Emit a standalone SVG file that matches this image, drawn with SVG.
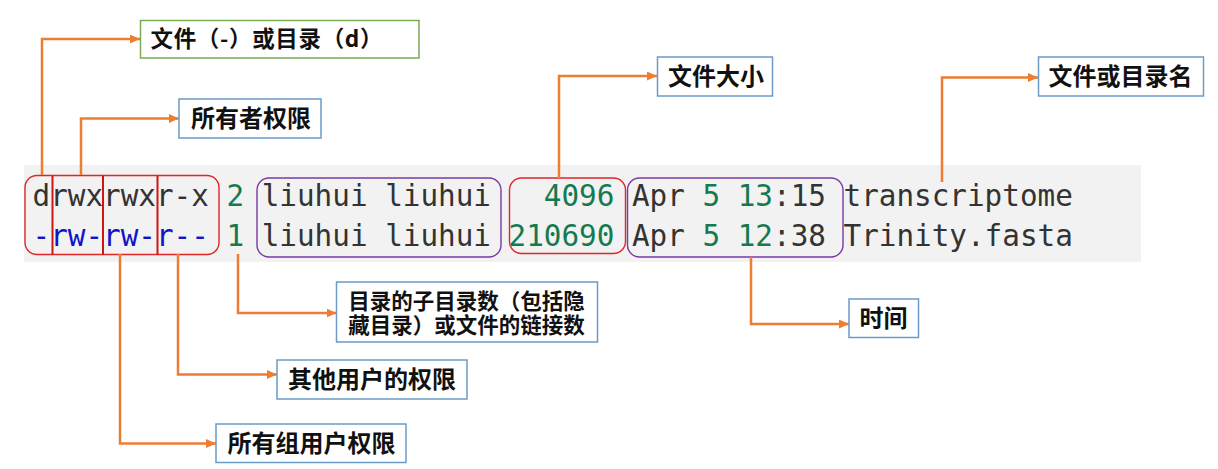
<svg xmlns="http://www.w3.org/2000/svg" width="1218" height="469" viewBox="0 0 1218 469">
<style>
.mono{font-family:"DejaVu Sans Mono","Liberation Mono",monospace;font-size:29.3px;fill:#333333}
.g{fill:#157a50}
.b{fill:#1212c8}
.lbl{font-family:"Noto Sans CJK SC","Noto Sans",sans-serif;font-weight:bold;font-size:24px;fill:#111111;text-anchor:middle}
.box{fill:#ffffff;stroke:#6b9bc6;stroke-width:1.5}
.boxg{fill:#ffffff;stroke:#7aab55;stroke-width:1.5}
.red{fill:none;stroke:#e02626;stroke-width:1.4}
.pur{fill:none;stroke:#7a3aa6;stroke-width:1.4}
.div{stroke:#d01515;stroke-width:2}
.con{fill:none;stroke:#ed7d31;stroke-width:2.5;marker-end:url(#arr)}
</style>
<defs>
<marker id="arr" markerUnits="userSpaceOnUse" markerWidth="10" markerHeight="9" refX="10" refY="4.5" orient="auto">
<path d="M0,0 L10,4.5 L0,9 Z" fill="#ed7d31"/>
</marker>
</defs>
<rect width="1218" height="469" fill="#ffffff"/>
<g id="listing">
<rect x="24" y="165" width="1117" height="97" fill="#f2f2f2"/>
<rect class="red" x="25" y="175.5" width="194" height="79" rx="12"/>
<line class="div" x1="52.5" y1="175.5" x2="52.5" y2="254.5"/>
<line class="div" x1="103" y1="175.5" x2="103" y2="254.5"/>
<line class="div" x1="157.5" y1="175.5" x2="157.5" y2="254.5"/>
<rect class="pur" x="257" y="178" width="244" height="79" rx="12"/>
<rect class="red" x="509.5" y="178" width="116" height="75.5" rx="12"/>
<rect class="pur" x="627.5" y="178" width="215.5" height="79" rx="12"/>
<text class="mono" y="206"><tspan x="32.5">drwxrwxr-x</tspan><tspan class="g" x="226.4">2</tspan><tspan x="261.7">liuhui liuhui</tspan><tspan class="g" x="543.8">4096</tspan><tspan x="631.9">Apr</tspan><tspan class="g" x="702.4">5</tspan><tspan class="g" x="737.7">13</tspan><tspan x="773">:15</tspan><tspan x="843.5">transcriptome</tspan></text>
<text class="mono" y="245.5"><tspan class="b" x="32.5">-rw-rw-r--</tspan><tspan class="g" x="226.4">1</tspan><tspan x="261.7">liuhui liuhui</tspan><tspan class="g" x="508.5">210690</tspan><tspan x="631.9">Apr</tspan><tspan class="g" x="702.4">5</tspan><tspan class="g" x="737.7">12</tspan><tspan x="773">:38</tspan><tspan x="843.5">Trinity.fasta</tspan></text>
</g>
<g id="connectors">
<path class="con" d="M42,175 V39 H140"/>
<path class="con" d="M81,175 V118.5 H179"/>
<path class="con" d="M559,178 V76 H657"/>
<path class="con" d="M942,182 V77.5 H1038"/>
<path class="con" d="M238,254 V313 H336.5"/>
<path class="con" d="M178,254 V374.5 H277"/>
<path class="con" d="M120,254 V443.5 H216"/>
<path class="con" d="M751,257 V324 H849"/>
</g>
<g id="n-type">
<rect class="boxg" x="140.5" y="20.5" width="278.5" height="37.5"/>
<text class="lbl" x="266.5" y="47" style="font-size:22.5px" textLength="232" lengthAdjust="spacing">文件（-）或目录（d）</text>
</g>
<g id="n-owner">
<rect class="box" x="179" y="99" width="142" height="39"/>
<text class="lbl" x="251" y="127">所有者权限</text>
</g>
<g id="n-size">
<rect class="box" x="657.5" y="57" width="115" height="39"/>
<text class="lbl" x="716" y="85">文件大小</text>
</g>
<g id="n-name">
<rect class="box" x="1038.5" y="57" width="165" height="39"/>
<text class="lbl" x="1120.5" y="85">文件或目录名</text>
</g>
<g id="n-links">
<rect class="box" x="336.5" y="282" width="261" height="60"/>
<text class="lbl" style="font-size:21.5px"><tspan x="466.5" y="308.5">目录的子目录数（包括隐</tspan><tspan x="466.5" y="332.5">藏目录）或文件的链接数</tspan></text>
</g>
<g id="n-time">
<rect class="box" x="849" y="299" width="69.5" height="38.5"/>
<text class="lbl" x="883.5" y="327">时间</text>
</g>
<g id="n-other">
<rect class="box" x="277" y="360" width="190" height="39"/>
<text class="lbl" x="372" y="388">其他用户的权限</text>
</g>
<g id="n-group">
<rect class="box" x="216" y="424" width="190" height="38.5"/>
<text class="lbl" x="311.5" y="452">所有组用户权限</text>
</g>
</svg>
